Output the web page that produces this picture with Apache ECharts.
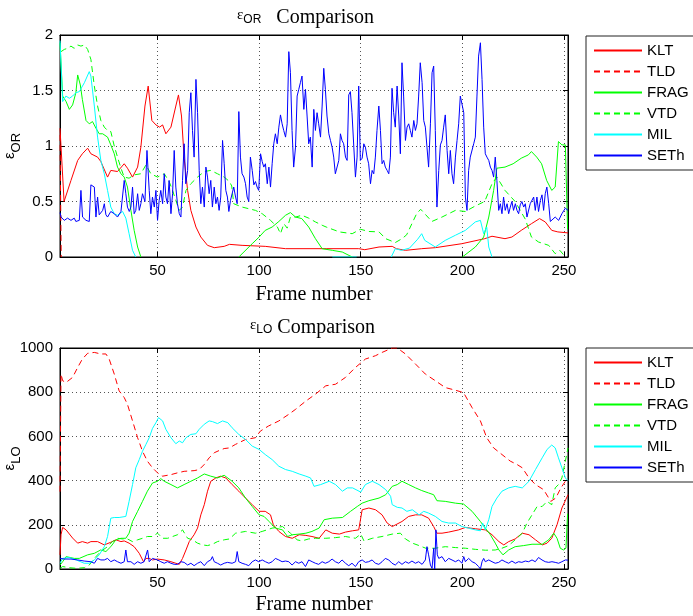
<!DOCTYPE html>
<html><head><meta charset="utf-8">
<script src="https://cdn.jsdelivr.net/npm/echarts@6/dist/echarts.min.js"></script>
<style>html,body{margin:0;padding:0;background:#fff}#c{width:693px;height:616px}</style>
</head><body><div id="c"></div>
<script>
const trackers = ['KLT','TLD','FRAG','VTD','MIL','SETh'];

// ---- top plot: epsilon_OR, [frame, value]
const orKLT = [[2,1.16],[4,0.50],[7.4,0.69],[10.7,0.87],[13,0.93],[15.6,0.98],[17.2,0.93],[20.5,0.90],[22.1,0.86],[25.4,0.72],[27,0.78],[30.3,0.77],[33.6,0.84],[35.2,0.80],[37.7,0.72],[40.2,0.81],[41.8,0.99],[43.8,1.36],[45.4,1.54],[47.2,1.23],[49.2,1.19],[51,1.17],[52.5,1.19],[54.1,1.11],[56.6,1.17],[59,1.36],[60.3,1.46],[61.8,1.27],[63.1,0.89],[64.8,0.60],[66.4,0.42],[68.9,0.27],[71.3,0.18],[74.6,0.105],[77.9,0.084],[82.8,0.096],[85.4,0.114],[91.6,0.105],[103,0.096],[113,0.075],[133,0.075],[149,0.075],[152,0.066],[159,0.09],[165.5,0.096],[167.5,0.075],[172,0.06],[180,0.075],[186.7,0.084],[199.8,0.12],[211,0.165],[214.6,0.187],[221,0.165],[224.4,0.18],[229,0.24],[234,0.30],[238,0.346],[240.8,0.316],[244,0.24],[247,0.226],[252,0.217]];
const orTLD = [[2,1.10],[2.6,0]];
const orFRAG = [[2,1.93],[3.3,1.45],[5,1.40],[6.6,1.33],[8.2,1.37],[9.8,1.48],[10.7,1.64],[12,1.55],[13,1.42],[14.8,1.23],[16.4,1.20],[18,1.22],[19.7,1.16],[21.3,1.11],[23,1.11],[25.4,1.08],[27,1.01],[28.7,0.93],[30.3,0.81],[32,0.75],[33.6,0.72],[35.2,0.63],[36.9,0.42],[38.5,0.24],[40.2,0.09],[41.8,0],[42,null],[90,0],[96.6,0.12],[100,0.18],[103,0.24],[106.4,0.27],[109.7,0.32],[113,0.376],[115.4,0.40],[117.9,0.36],[121,0.346],[124.4,0.27],[127.7,0.165],[131,0.075],[136,0.06],[140.9,0.045],[145.8,0],[146,null],[200,0],[206.4,0.09],[210.5,0.18],[213,0.36],[215.4,0.60],[217,0.80],[221,0.81],[225,0.84],[229,0.89],[232.5,0.92],[234,0.95],[236.6,0.90],[239,0.84],[241.5,0.69],[244,0.60],[245.7,0.63],[247.3,1.04],[249,1.01],[250.7,1.01],[251.8,0.25]];
const orVTD = [[2.5,1.85],[4.1,1.87],[5.7,1.88],[7.4,1.90],[9,1.88],[10.7,1.91],[12.3,1.90],[14,1.91],[15.6,1.87],[17.2,1.78],[18.9,1.54],[20.5,1.36],[22.1,1.23],[23.8,1.17],[25.4,1.14],[27,1.13],[28.7,1.0],[30.3,0.90],[32,0.80],[33.6,0.72],[36,0.71],[38.5,0.74],[41.8,0.75],[44.3,0.83],[46.7,0.75],[50,0.72],[53.3,0.75],[55.7,0.68],[57.4,0.60],[59,0.51],[60.7,0.42],[62.3,0.45],[64,0.60],[66.4,0.66],[69.7,0.72],[73,0.77],[76.2,0.78],[79.5,0.75],[82.8,0.72],[85.4,0.68],[86.5,0.64],[87.5,0.48],[91.6,0.45],[98.2,0.42],[101.5,0.39],[105.6,0.33],[109,0.27],[110.5,0.21],[112.2,0.30],[113.8,0.26],[115.4,0.36],[118,0.36],[121,0.376],[124.4,0.35],[127.7,0.316],[131,0.286],[133,0.27],[139.5,0.226],[145.8,0.21],[149.8,0.25],[154,0.23],[159,0.226],[162.3,0.165],[167,0.13],[170.3,0.165],[172.6,0.20],[177.5,0.39],[179.5,0.43],[182,0.38],[185,0.32],[190,0.36],[196.6,0.42],[201.5,0.41],[206.4,0.46],[211,0.50],[214.6,0.66],[217,0.72],[221,0.60],[226,0.50],[231,0.34],[234,0.18],[237.5,0.135],[242.5,0.105],[245.7,0.03],[248,0.06],[250.7,0]];
const orMIL = [[2,1.95],[3.3,1.40],[4.9,1.45],[6.6,1.43],[8.2,1.45],[9.8,1.48],[11.5,1.49],[14,1.57],[16.4,1.67],[17.2,1.63],[18.9,1.36],[20.5,1.08],[22.1,0.87],[23.8,0.75],[25.4,0.60],[27,0.45],[28.7,0.39],[30.3,0.376],[32.8,0.41],[34.4,0.35],[36,0.21],[37.7,0.06],[39.3,0],[40,null],[136,0],[148,0],[149,null],[165,0],[167,0.075],[170,0.06],[174,0.08],[178,0.16],[180,0.21],[181.5,0.15],[186.7,0.09],[191.6,0.15],[196.6,0.196],[201.5,0.24],[206.4,0.316],[208.9,0.33],[210.5,0.21],[212,0.27],[213,0.09],[214.6,0]];
const orSETh = [[2,0.40],[2.5,0.36],[4.1,0.33],[5.7,0.35],[7.4,0.33],[9,0.35],[9.8,0.32],[11.5,0.33],[12.3,0.60],[13.1,0.36],[14.8,0.33],[16.4,0.32],[17.2,0.65],[18.9,0.63],[19.7,0.36],[20.5,0.54],[21.3,0.38],[22.1,0.39],[23,0.42],[23.8,0.48],[24.6,0.38],[25.4,0.36],[27,0.41],[28.7,0.39],[30.3,0.36],[32,0.41],[33.6,0.69],[34.4,0.57],[35.2,0.45],[36.1,0.41],[36.9,0.45],[37.7,0.63],[38.5,0.39],[39.3,0.42],[40.2,0.57],[41,0.42],[41.8,0.48],[42.6,0.57],[43.8,0.50],[44.8,0.96],[45.9,0.60],[46.7,0.39],[47.5,0.54],[48.4,0.45],[49.2,0.60],[50,0.33],[50.8,0.51],[51.6,0.60],[52.5,0.48],[53.3,0.75],[54.1,0.54],[54.9,0.48],[55.7,0.69],[56.6,0.39],[57.4,0.57],[58.2,0.96],[59,0.63],[59.8,0.48],[60.7,0.39],[61.5,0.36],[62.3,0.69],[63.1,1.02],[63.9,0.66],[64.8,0.78],[65.6,1.30],[66.4,1.48],[67.2,1.14],[68,0.90],[68.9,1.60],[69.7,1.30],[70.5,0.78],[71.3,0.48],[72.1,0.63],[73,0.45],[73.8,0.81],[74.6,0.72],[75.4,0.57],[76.2,0.69],[77,0.45],[77.9,0.63],[78.7,0.48],[79.5,0.54],[80.3,0.42],[81.1,0.54],[82,1.05],[82.8,0.84],[83.6,0.60],[84.4,0.54],[85.1,0.41],[85.9,0.51],[86.7,0.57],[87.5,0.63],[88.4,0.54],[89.2,0.48],[90,1.31],[90.8,0.90],[91.6,0.75],[92.5,0.72],[93.3,0.66],[94.1,0.54],[94.9,0.50],[95.7,0.90],[96.6,0.78],[97.4,0.65],[98.2,0.68],[99,0.63],[99.8,0.60],[100.7,0.93],[101.5,0.86],[102.3,0.81],[103.1,0.84],[104,0.66],[104.8,0.81],[105.6,0.63],[106.4,0.84],[107.2,1.02],[108,1.11],[108.9,1.02],[109.7,1.17],[110.5,1.28],[111.3,1.20],[112.1,1.14],[113,1.08],[113.8,1.20],[114.6,1.85],[115.4,1.66],[116.2,1.14],[117,0.81],[117.9,0.99],[118.7,1.45],[119.5,1.51],[120.3,1.57],[121.1,1.63],[122,1.33],[122.8,1.51],[123.6,1.27],[124.4,1.02],[125.2,1.08],[126.1,0.81],[126.9,1.33],[127.7,1.14],[128.5,1.30],[129.3,1.20],[130.2,1.08],[131,1.36],[131.8,1.70],[132.6,1.51],[133.4,1.27],[134.3,1.11],[135.1,1.05],[135.9,0.99],[136.7,0.90],[137.5,0.75],[138.4,0.74],[139.2,0.87],[140,1.11],[140.8,1.05],[141.6,1.02],[142.5,0.90],[143.3,0.87],[144.1,1.46],[144.9,1.49],[145.7,1.30],[146.6,0.99],[147.4,0.72],[148.2,0.90],[149,1.54],[149.8,0.87],[150.7,0.89],[151.5,1.02],[152.3,0.99],[153.1,0.90],[153.9,0.84],[154.8,0.66],[155.6,0.78],[156.4,0.75],[157.2,0.90],[158,1.14],[158.9,1.36],[159.7,1.14],[160.5,0.84],[161.3,0.87],[162.1,0.81],[163,0.78],[163.8,0.75],[164.6,0.90],[165.4,1.52],[166.2,1.30],[167,1.17],[167.9,1.54],[168.7,1.27],[169.5,0.93],[170.3,1.75],[171.1,1.45],[172,1.05],[172.8,1.17],[173.6,1.20],[174.4,1.14],[175.2,1.08],[176.1,1.23],[176.9,1.14],[177.7,1.20],[178.5,1.45],[179.3,1.75],[180.2,1.57],[181,1.23],[181.8,1.17],[182.6,0.99],[183.4,0.81],[184.3,1.20],[185.1,1.66],[185.9,1.72],[186.7,1.14],[187.5,0.45],[188.4,0.78],[189.2,1.01],[190,1.05],[190.8,1.17],[191.6,1.28],[192.5,0.96],[193.3,0.75],[194.1,0.96],[194.9,0.75],[195.7,0.66],[196.6,0.90],[197.4,1.05],[198.2,1.20],[199,1.45],[199.8,1.46],[200.7,1.30],[201.5,0.54],[202.3,0.42],[203.1,0.78],[203.9,0.90],[204.8,0.90],[205.6,1.02],[206.4,1.08],[207.2,1.45],[208,1.81],[208.9,1.93],[209.7,1.60],[210.5,1.17],[211.3,0.93],[212.1,0.90],[213,0.87],[213.8,0.81],[214.6,0.78],[215.4,0.72],[216.2,0.90],[217,0.69],[217.9,0.42],[218.7,0.48],[219.5,0.39],[220.3,0.54],[221.1,0.42],[222,0.48],[222.8,0.39],[223.6,0.45],[224.4,0.50],[225.2,0.42],[226.1,0.48],[226.9,0.42],[227.7,0.39],[228.5,0.47],[229.3,0.50],[230.2,0.45],[231,0.48],[231.8,0.36],[232.6,0.35],[233.4,0.48],[234.3,0.47],[235.1,0.54],[235.9,0.42],[236.7,0.54],[237.5,0.41],[238.4,0.51],[239.2,0.56],[240,0.42],[240.8,0.57],[241.6,0.63],[242.5,0.48],[243.3,0.32],[244.1,0.33],[245.7,0.36],[247.4,0.33],[249,0.39],[250.7,0.44],[252,0.42]];

// ---- bottom plot: epsilon_LO, [frame, value]
const loKLT = [[2,64],[2.5,155],[3.3,188],[5,177],[8.2,140],[10.7,117],[13,124],[15.6,117],[17.2,124],[20.5,124],[23.8,109],[27,121],[29.5,132],[32,124],[33.6,127],[36,117],[38.5,101],[41,71],[43.1,33],[44.3,48],[45.9,48],[47.5,41],[50,45],[53.3,41],[56.6,33],[59,26],[60.7,21],[62.3,48],[64,86],[65.6,124],[68,155],[69.7,185],[71.3,245],[73,291],[74.6,352],[76.2,397],[78.7,412],[81,420],[83.6,412],[86.7,382],[90,352],[93.3,321],[96.6,291],[100,261],[103,261],[105.6,245],[107,200],[109.7,170],[113,147],[116.3,139],[119.7,155],[123,152],[126,147],[129.5,139],[132.8,177],[136,162],[139.5,158],[142.5,167],[146,173],[149,177],[150.7,268],[154,276],[157.3,268],[160.5,245],[163,208],[165.5,192],[170.3,215],[173.6,238],[177,245],[180,245],[183.4,230],[185.9,192],[187.5,162],[190,162],[193.3,167],[198.2,177],[201.5,188],[206.4,182],[211.3,177],[214.6,155],[218,124],[220.4,109],[222.8,124],[226,136],[229.5,162],[232.8,155],[236,132],[239.3,109],[241.7,117],[244,139],[246.6,200],[249,276],[252,336]];
const loTLD = [[2,350],[2.5,882],[3.3,852],[5,844],[8.2,867],[10.7,912],[13,950],[15.6,976],[18.9,980],[22.1,973],[24.6,973],[26.2,950],[28.7,882],[31.1,806],[33.6,776],[35.2,745],[37.7,670],[40.2,594],[42.6,533],[45,488],[47.5,458],[50,435],[52.5,420],[56.6,427],[59.8,435],[63.1,442],[68,445],[70.5,450],[73,473],[75.4,503],[77.9,526],[80.3,536],[82.8,545],[85.4,548],[88.4,564],[93.3,586],[98.2,594],[100.6,624],[104.6,647],[109.7,670],[114.6,700],[118,723],[123,760],[127.7,791],[132.8,829],[137.6,836],[142.5,867],[147.4,912],[152.3,950],[157.2,965],[160.5,980],[165.5,1000],[168,1000],[172,973],[177,927],[181.8,882],[186.7,852],[191.6,821],[196.6,809],[200.6,798],[204.8,730],[208.9,670],[212,594],[215.4,548],[219.5,518],[223.6,488],[226.9,473],[229.5,458],[232.8,412],[236,382],[240,359],[243.5,306],[246,321],[248.5,367],[250.7,397],[252,405]];
const loFRAG = [[2,18],[3.3,33],[5,56],[9,48],[11.5,48],[15.6,64],[18.9,71],[22,86],[24.6,79],[27,101],[29.5,132],[32,139],[34.4,139],[36,162],[37.7,215],[40.2,261],[42.6,306],[45,352],[47.5,389],[50,397],[51.6,409],[53.3,397],[56.6,382],[59.8,367],[63.1,382],[66.4,397],[69.7,412],[73,430],[76.2,420],[79.5,412],[82.8,424],[86.7,397],[90,367],[93.3,321],[96.6,283],[100,245],[102.4,238],[104.9,215],[108,185],[111.5,177],[114,147],[116.3,155],[119.7,158],[123,162],[126,170],[129.5,185],[132,223],[136,230],[141,233],[145,261],[148.3,283],[150.7,298],[154,309],[159,321],[162.3,336],[165.5,374],[168,382],[170.3,397],[173.6,382],[177,367],[180,355],[183.4,344],[185.9,336],[187.5,309],[191.6,306],[196.6,298],[200.6,294],[204.8,261],[208.9,215],[211.3,185],[213.8,155],[216.2,117],[218,86],[220,64],[222.8,86],[226,101],[230.2,106],[234.3,112],[239.3,112],[242.5,132],[245,162],[246.6,139],[248.2,94],[249.8,86],[251,94],[251.8,250]];
const loVTD = [[2,3],[3.3,11],[6.6,6],[10,3],[14,6],[16.4,18],[18.9,48],[22,79],[25.4,101],[27.8,124],[30.3,139],[32.8,136],[35.2,136],[37.7,124],[40.2,132],[42.6,139],[45,147],[47.5,147],[50,162],[52.5,139],[55,139],[57.4,147],[59.8,155],[62.3,177],[64.8,139],[67.2,132],[69.7,117],[72.1,109],[74.6,106],[77,112],[79.5,124],[82.8,132],[85.4,136],[88.4,162],[93.3,170],[98.2,162],[101.5,170],[106.4,185],[111.5,192],[115.4,162],[118.7,132],[121,127],[124.4,136],[127.7,139],[132.8,139],[137.6,142],[142.5,147],[147.4,139],[150,158],[151.6,127],[155.7,139],[160.5,147],[165.5,158],[169.5,162],[172,136],[175.4,117],[178.7,106],[182,94],[186.7,94],[191.6,101],[196.6,97],[201.5,94],[206.4,89],[211.3,85],[216.2,86],[219.5,94],[222.8,106],[226,132],[229.5,162],[231.8,208],[234.3,245],[236.8,283],[239.3,283],[241.7,306],[244,291],[245.7,367],[247.3,382],[249,412],[250.7,488],[252,548]];
const loMIL = [[2,26],[3.3,48],[6.6,52],[10,41],[13.9,26],[16.4,26],[18.9,41],[21.3,64],[23.8,101],[25.4,147],[27,230],[28.7,233],[31.1,233],[34.4,238],[36,306],[37.7,382],[39.3,458],[41,495],[42.6,533],[44.3,564],[45.9,594],[47.5,636],[49.2,662],[50.5,685],[52.5,670],[54.1,632],[56.6,594],[59,567],[60.7,579],[62.3,571],[64,594],[66.4,609],[68.9,612],[70.5,632],[73,655],[75.4,670],[77,667],[79.5,658],[82,670],[84.6,662],[86.7,639],[90,609],[93.3,586],[96.6,556],[100,541],[103,518],[106.4,495],[109.7,465],[113,450],[116.3,442],[119.7,430],[123,420],[125.3,412],[127,374],[130.3,382],[134.5,397],[137.6,382],[141,352],[143.4,367],[146,367],[150,348],[152.3,382],[155.7,397],[159,382],[162.3,359],[164.7,329],[165.5,291],[168,279],[170.3,276],[172.7,261],[175.4,268],[178.7,245],[181,261],[183.4,253],[186.7,238],[190,215],[193.2,208],[196.6,208],[199.8,192],[203.1,185],[206.4,177],[208.9,173],[210,208],[211.3,177],[213,223],[214.6,283],[217,321],[219.5,352],[222.8,367],[226,374],[229.5,367],[232.8,397],[236,450],[239.3,503],[241.7,541],[244,561],[245.7,548],[247.3,503],[249,458],[250.7,412],[252,400]];
const loSETh = [[2,48],[4.1,45],[7.4,45],[10.7,41],[13.9,36],[17.2,33],[18.9,26],[20.5,48],[22.1,41],[23.8,41],[25.4,48],[27,33],[28.7,41],[30.3,33],[32,26],[33.6,33],[34.4,86],[35.2,33],[36.9,33],[38.5,21],[40.2,33],[41.8,26],[43.4,33],[45.1,86],[45.9,33],[47.5,48],[50,41],[51.6,33],[53.3,26],[54.9,33],[56.6,26],[58.2,21],[59.8,21],[61.5,33],[63.1,30],[64.8,18],[66.4,26],[68,15],[69.7,26],[71.3,33],[73,15],[74.6,33],[76.2,41],[77,56],[77.9,33],[79.5,26],[81.1,18],[82.8,26],[84.4,30],[85.1,33],[86.7,26],[88.4,33],[89.2,79],[90,33],[91.6,26],[93.3,21],[94.9,15],[96.6,33],[98.2,41],[99.8,33],[101.5,41],[103.1,33],[104.8,26],[106.4,33],[108,48],[109.7,41],[111.3,33],[113,36],[114.6,33],[116.2,18],[117,11],[117.9,33],[119.5,26],[121.1,33],[122.8,11],[124.4,41],[126.1,33],[127.7,26],[129.3,21],[131,33],[132.6,26],[134.3,33],[135.9,45],[137.5,33],[139.2,26],[140.8,41],[142.5,26],[144.1,15],[145.7,26],[147.4,11],[149,33],[150.7,41],[152.3,30],[153.9,33],[155.6,41],[157.2,26],[158.9,21],[160.5,33],[162.1,48],[163.8,41],[165.4,26],[167,18],[168.7,33],[170.3,21],[172,33],[173.6,26],[175.2,36],[176.9,26],[178.5,33],[180.2,21],[181.8,41],[182.6,101],[183.4,64],[184.3,18],[185.1,3],[185.9,94],[186.4,0],[187,177],[187.7,64],[188.4,48],[190,56],[191.6,33],[193.3,48],[194.9,41],[196.6,33],[198.2,41],[199.8,26],[200.7,56],[201.5,33],[203.1,48],[204.8,33],[206.4,26],[208,11],[208.9,0],[209.7,33],[210.5,48],[211.3,33],[213,41],[214.6,33],[216.2,26],[217.9,30],[219.5,41],[221.1,33],[222.8,26],[224.4,36],[226.1,26],[227.7,33],[229.3,30],[231,36],[232.6,33],[234.3,41],[235.9,33],[237.5,52],[239.2,41],[240.8,33],[242.5,30],[244.1,33],[245.7,30],[247.4,26],[249,33],[250.7,41],[252,40]];

const topData = [orKLT, orTLD, orFRAG, orVTD, orMIL, orSETh];
const botData = [loKLT, loTLD, loFRAG, loVTD, loMIL, loSETh];

const colorOf = {KLT:'#ff0000', TLD:'#ff0000', FRAG:'#00ff00', VTD:'#00ff00', MIL:'#00ffff', SETh:'#0000ff'};
const dashOf = {KLT:'solid', TLD:[6,4], FRAG:'solid', VTD:[6,4], MIL:'solid', SETh:'solid'};

const SANS = 'Liberation Sans, Arial, sans-serif';
const SERIF = 'Liberation Serif, Times New Roman, serif';

function mainX(g, gap) {
  return {type:'value', gridIndex:g, min:2, max:252, splitNumber:5, position:'bottom',
    axisLine:{show:true, onZero:false, lineStyle:{color:'#000', width:1}},
    axisTick:{show:true, inside:true, length:5, lineStyle:{color:'#000'}},
    axisLabel:{color:'#000', fontSize:15, fontFamily:SANS, margin:6, showMinLabel:false, showMaxLabel:false},
    splitLine:{show:true, lineStyle:{color:'#555', type:[1,3], width:1}},
    name:'Frame number', nameLocation:'middle', nameGap:gap, nameMoveOverlap:false,
    nameTextStyle:{fontFamily:SERIF, fontSize:20, color:'#000', fontWeight:'normal'}};
}
function topX(g) {
  return {type:'value', gridIndex:g, min:2, max:252, splitNumber:5, position:'top',
    axisLine:{show:true, onZero:false, lineStyle:{color:'#000'}},
    axisTick:{show:true, inside:true, length:5, lineStyle:{color:'#000'}},
    axisLabel:{show:false}, splitLine:{show:false}};
}
function leftY(g, max, interval, sub) {
  return {type:'value', gridIndex:g, min:0, max:max, interval:interval, position:'left',
    axisLine:{show:true, onZero:false, lineStyle:{color:'#000'}},
    axisTick:{show:true, inside:true, length:5, lineStyle:{color:'#000'}},
    axisLabel:{color:'#000', fontSize:15, fontFamily:SANS, margin:7, formatter:(v) => String(v)},
    splitLine:{show:true, lineStyle:{color:'#555', type:[1,3], width:1}},
    name:'{e|ε}{s|' + sub + '}', nameLocation:'middle', nameGap:37, nameRotate:90, nameMoveOverlap:false,
    nameTextStyle:{rich:{
      e:{fontFamily:SANS, fontSize:15, color:'#000', fontWeight:'normal', padding:[0,0,6,0]},
      s:{fontFamily:SANS, fontSize:13, color:'#000', fontWeight:'normal', padding:[7,0,0,0]}
    }}};
}
function rightY(g, max, interval) {
  return {type:'value', gridIndex:g, min:0, max:max, interval:interval, position:'right',
    axisLine:{show:true, onZero:false, lineStyle:{color:'#000'}},
    axisTick:{show:true, inside:true, length:5, lineStyle:{color:'#000'}},
    axisLabel:{show:false}, splitLine:{show:false}};
}

const series = [];
trackers.forEach((name, i) => {
  [[topData[i], 0], [botData[i], 2]].forEach(([d, ax]) => {
    series.push({type:'line', name:name, data:d, xAxisIndex:ax, yAxisIndex:ax,
      symbol:'none', showSymbol:false, connectNulls:false, animation:false,
      lineStyle:{color:colorOf[name], width:1, type:dashOf[name]},
      itemStyle:{color:colorOf[name]}});
  });
});

function legendAt(top) {
  return {data:trackers, orient:'vertical', left:586, top:top, itemWidth:48, itemHeight:14, itemGap:6,
    padding:[7,10,7,7], borderColor:'#222', borderWidth:1, backgroundColor:'#fff',
    itemStyle:{opacity:0, borderWidth:0},
    textStyle:{color:'#000', fontSize:15, fontFamily:SANS}, selectedMode:false};
}
function titleRich() {
  return {
    e:{fontFamily:SERIF, fontSize:15, color:'#000', fontWeight:'normal', padding:[0,0,5,0]},
    s:{fontFamily:SANS, fontSize:12, color:'#000', fontWeight:'normal', padding:[3,0,0,0]},
    m:{fontFamily:SERIF, fontSize:20, color:'#000', fontWeight:'normal'}
  };
}

const chart = echarts.init(document.getElementById('c'), null, {renderer:'canvas'});
chart.setOption({
  backgroundColor:'#fff',
  animation:false,
  title:[
    {text:'{e|ε}{s|OR}{m|   Comparison}', left:237, top:8, padding:0, textStyle:{fontWeight:'normal', rich:titleRich()}},
    {text:'{e|ε}{s|LO}{m| Comparison}', left:250, top:318, padding:0, textStyle:{fontWeight:'normal', rich:titleRich()}}
  ],
  legend:[legendAt(36), legendAt(348)],
  grid:[
    {left:60, top:35, width:508, height:222, show:true, borderColor:'#000', borderWidth:1, backgroundColor:'#fff', containLabel:false, outerBoundsMode:'none'},
    {left:60, top:348, width:508, height:221, show:true, borderColor:'#000', borderWidth:1, backgroundColor:'#fff', containLabel:false, outerBoundsMode:'none'}
  ],
  xAxis:[mainX(0, 28), topX(0), mainX(1, 26), topX(1)],
  yAxis:[leftY(0, 2, 0.5, 'OR'), rightY(0, 2, 0.5), leftY(1, 1000, 200, 'LO'), rightY(1, 1000, 200)],
  series:series
});
</script>
</body></html>
